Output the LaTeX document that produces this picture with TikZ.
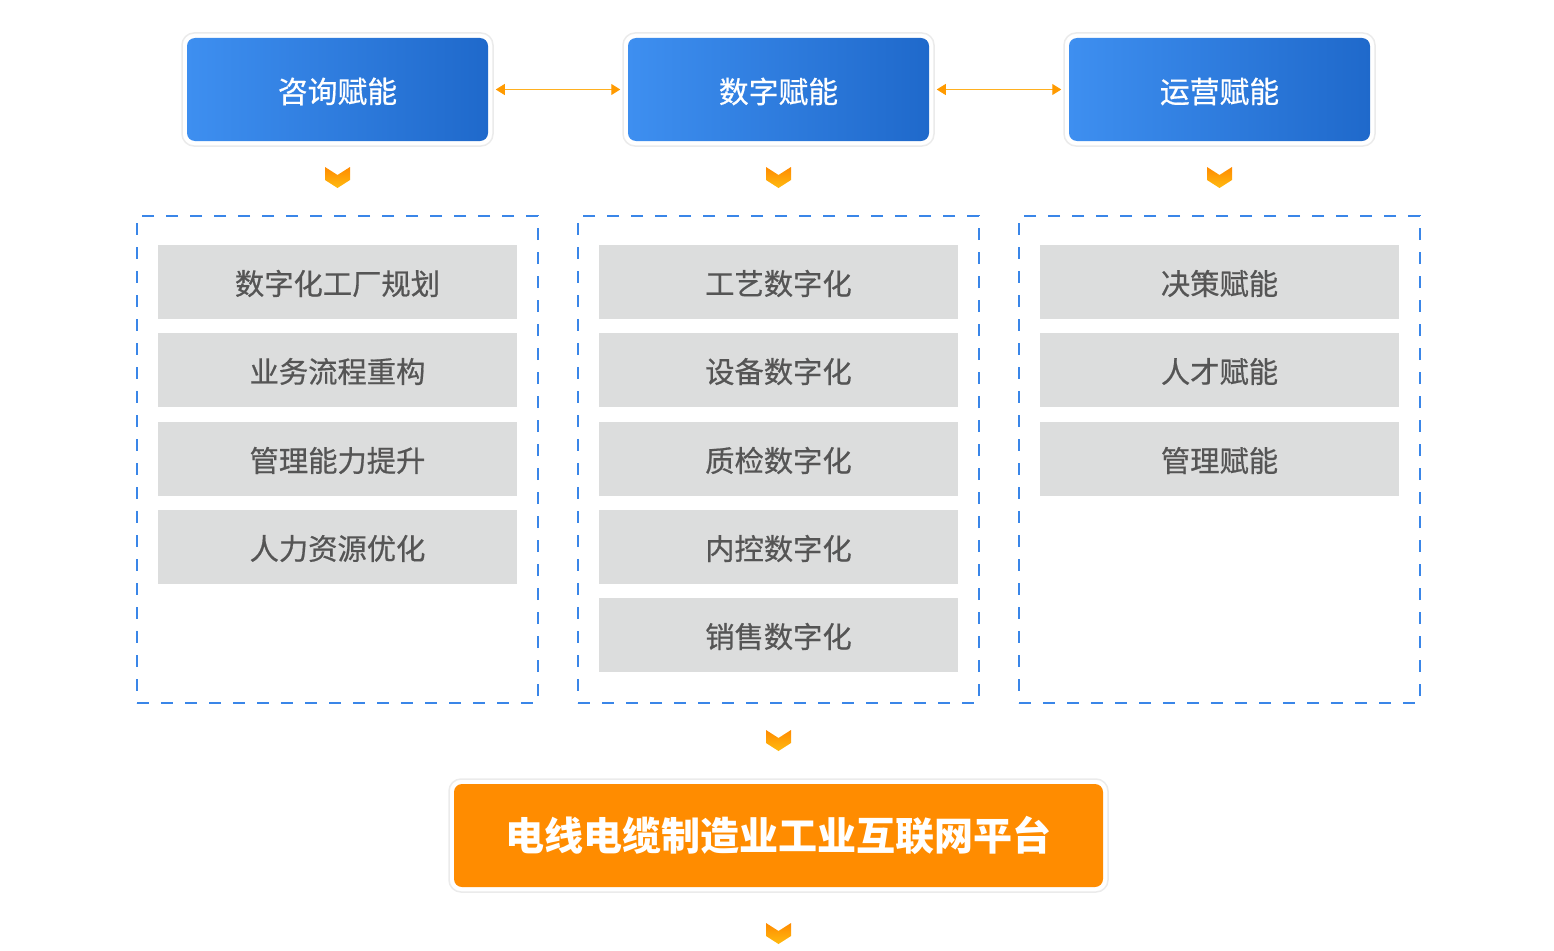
\documentclass[tikz,border=0pt]{standalone}
\usepackage{fontspec}
\newfontfamily\cjk[FakeBold=0.6]{Noto Sans CJK SC}
\newfontfamily\cjkb{Noto Sans CJK SC}
\usetikzlibrary{arrows.meta}
\definecolor{blueL}{HTML}{3E8FF0}
\definecolor{blueR}{HTML}{1F69CB}
\definecolor{dashblue}{HTML}{3A86E8}
\definecolor{greybox}{HTML}{DCDDDD}
\definecolor{greytext}{HTML}{555555}
\definecolor{mainorange}{HTML}{FF8C00}
\definecolor{arrowline}{HTML}{FFB020}
\definecolor{arrowhead}{HTML}{FF9A00}
\definecolor{chevtop}{HTML}{FF8A00}
\definecolor{chevbot}{HTML}{FFBB10}
\definecolor{halo}{HTML}{EBEBEB}
\newcommand{\chevron}[3]{%
  \shade[top color=chevtop, bottom color=chevbot] (#2-12.5,#3) -- (#2,#3+8) -- (#2+12.5,#3) -- (#2+12.5,#3+13) -- (#2,#3+21) -- (#2-12.5,#3+13) -- cycle;
  \coordinate (#1) at (#2,#3+10);}
\begin{document}
\begin{tikzpicture}[x=1pt,y=-1pt,
  outerbox/.style={fill=white, draw=halo, line width=1.5, rounded corners=12, inner sep=0},
  topbox/.style={rounded corners=8, left color=blueL, right color=blueR, minimum width=301, minimum height=103, inner sep=0},
  toptext/.style={text=white, font=\cjk\fontsize{29.8}{30}\selectfont, yshift=-2pt, inner sep=0},
  groupbox/.style={draw=dashblue, line width=1.3, dash pattern=on 12 off 12, minimum width=401, minimum height=487, inner sep=0},
  itembox/.style={fill=greybox, minimum width=359, minimum height=74, inner sep=0},
  itemtext/.style={text=greytext, font=\cjk\fontsize{29.3}{30}\selectfont, yshift=-1.5pt, inner sep=0},
  platform/.style={rounded corners=8, fill=mainorange, minimum width=649, minimum height=103, inner sep=0},
  platformtext/.style={text=white, font=\cjkb\bfseries\fontsize{39}{40}\selectfont, yshift=0.5pt, inner sep=0},
  biarrow/.style={draw=arrowline, line width=1, {Triangle[length=9,width=11,fill=arrowhead,color=arrowhead]}-{Triangle[length=9,width=11,fill=arrowhead,color=arrowhead]}, shorten <=2, shorten >=2}
]
\useasboundingbox (0,0) rectangle (1554,950);
% top boxes
\node[outerbox, minimum width=311, minimum height=113] (t1o) at (337.5,89.5) {};
\node[outerbox, minimum width=311, minimum height=113] (t2o) at (778.5,89.5) {};
\node[outerbox, minimum width=311, minimum height=113] (t3o) at (1219.5,89.5) {};
\node[topbox, label={[toptext]center:咨询赋能}] (t1) at (337.5,89.5) {};
\node[topbox, label={[toptext]center:数字赋能}] (t2) at (778.5,89.5) {};
\node[topbox, label={[toptext]center:运营赋能}] (t3) at (1219.5,89.5) {};
\draw[biarrow] (t1o.east) -- (t2o.west);
\draw[biarrow] (t2o.east) -- (t3o.west);
% chevrons
\chevron{c1}{337.5}{167}
\chevron{c2}{778.5}{167}
\chevron{c3}{1219.5}{167}
% group boxes
\node[groupbox] (g1) at (337.5,459.5) {};
\node[groupbox] (g2) at (778.5,459.5) {};
\node[groupbox] (g3) at (1219.5,459.5) {};
% items
\node[itembox, label={[itemtext]center:数字化工厂规划}] (a1) at (337.5,282) {};
\node[itembox, label={[itemtext]center:业务流程重构}] (a2) at (337.5,370) {};
\node[itembox, label={[itemtext]center:管理能力提升}] (a3) at (337.5,459) {};
\node[itembox, label={[itemtext]center:人力资源优化}] (a4) at (337.5,547) {};
\node[itembox, label={[itemtext]center:工艺数字化}] (b1) at (778.5,282) {};
\node[itembox, label={[itemtext]center:设备数字化}] (b2) at (778.5,370) {};
\node[itembox, label={[itemtext]center:质检数字化}] (b3) at (778.5,459) {};
\node[itembox, label={[itemtext]center:内控数字化}] (b4) at (778.5,547) {};
\node[itembox, label={[itemtext]center:销售数字化}] (b5) at (778.5,635) {};
\node[itembox, label={[itemtext]center:决策赋能}] (d1) at (1219.5,282) {};
\node[itembox, label={[itemtext]center:人才赋能}] (d2) at (1219.5,370) {};
\node[itembox, label={[itemtext]center:管理赋能}] (d3) at (1219.5,459) {};
% bottom
\chevron{c4}{778.5}{730}
\node[outerbox, minimum width=659, minimum height=113] (po) at (778.5,835.5) {};
\node[platform, label={[platformtext]center:电线电缆制造业工业互联网平台}] (p) at (778.5,835.5) {};
\chevron{c5}{778.5}{923}
\end{tikzpicture}
\end{document}
